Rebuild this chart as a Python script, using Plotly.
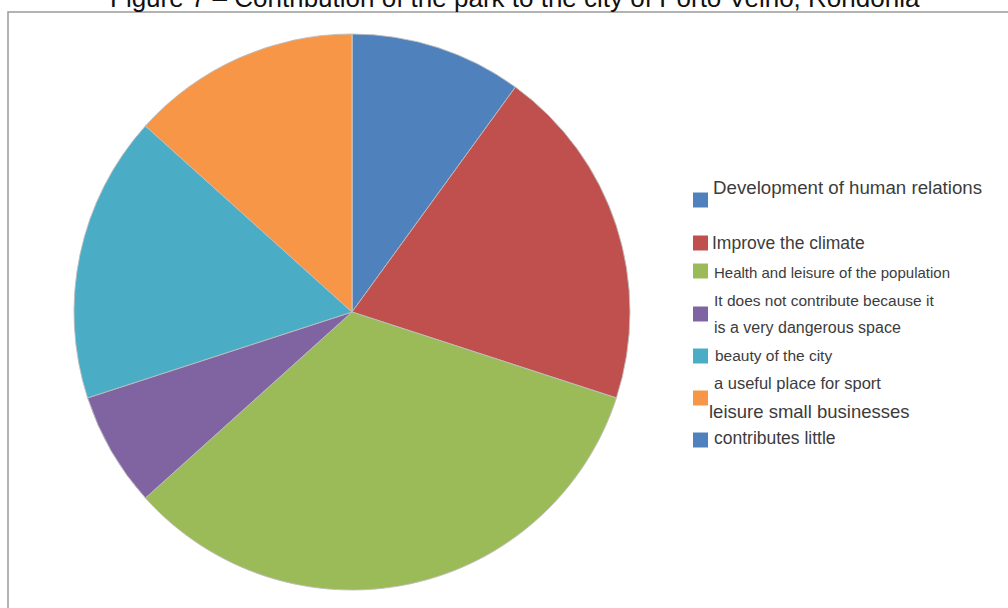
import plotly.graph_objects as go

# Survey answers: contribution of the park to the city
categories = [
    "Development of human relations",
    "Improve the climate",
    "Health and leisure of the population",
    "It does not contribute because it\nis a very dangerous space",
    "beauty of the city",
    "a useful place for sport\nleisure small businesses",
    "contributes little",
]
responses = [3, 6, 10, 2, 5, 4, 0]
colors = ["#4F81BD", "#C0504D", "#9BBB59", "#8064A2", "#4BACC6", "#F79646", "#4F81BD"]

title_text = "Figure 7 \u2013 Contribution of the park to the city of Porto Velho, Rondonia"

W, H = 1008, 608


def px(x):
    return x / W


def py(y):
    return 1 - y / H


# pie geometry (pixels)
cx, cy, r = 352, 312, 278

fig = go.Figure()
fig.add_trace(go.Pie(
    labels=[c.replace("\n", " ") for c in categories],
    values=responses,
    marker=dict(colors=colors, line=dict(color="rgba(190,190,190,0.9)", width=1)),
    sort=False,
    direction="clockwise",
    rotation=0,
    textinfo="none",
    showlegend=False,
    domain=dict(x=[px(cx - r), px(cx + r)], y=[py(cy + r), py(cy - r)]),
))

# legend layout: marker centre y, and for each text line (y, x, font size)
legend_marker_y = [200, 243, 271, 314, 356, 398, 440]
legend_lines = [
    [(187, 711, 18.7)],
    [(243, 710, 17.5)],
    [(272, 712, 15)],
    [(300, 712, 15.5), (327, 712, 16)],
    [(355, 713, 15.5)],
    [(383, 712, 16.5), (411, 707, 18.5)],
    [(438, 712, 17.5)],
]

shapes = [
    dict(type="rect", xref="paper", yref="paper",
         x0=px(8), x1=px(1030), y0=py(640), y1=py(12),
         line=dict(color="#9a9a9a", width=1.5), fillcolor="rgba(0,0,0,0)", layer="below"),
]
annotations = [
    dict(text=title_text, xref="paper", yref="paper", x=px(515), y=py(-2.5),
         xanchor="center", yanchor="middle", showarrow=False,
         font=dict(family="Liberation Sans, Arial", size=26, color="#111111")),
]

for cat, col, my, lines in zip(categories, colors, legend_marker_y, legend_lines):
    shapes.append(dict(type="rect", xref="paper", yref="paper",
                       x0=px(693), x1=px(708), y0=py(my + 7.5), y1=py(my - 7.5),
                       fillcolor=col, line=dict(width=0)))
    for text, (ly, lx, fs) in zip(cat.split("\n"), lines):
        annotations.append(dict(text=text, xref="paper", yref="paper", x=px(lx), y=py(ly),
                                xanchor="left", yanchor="middle", showarrow=False,
                                font=dict(family="Liberation Sans, Arial", size=fs, color="#3c3c3c")))

fig.update_layout(
    width=W, height=H, autosize=False,
    margin=dict(l=0, r=0, t=0, b=0),
    paper_bgcolor="white", plot_bgcolor="white",
    shapes=shapes, annotations=annotations,
)

fig.write_html("out.html")
